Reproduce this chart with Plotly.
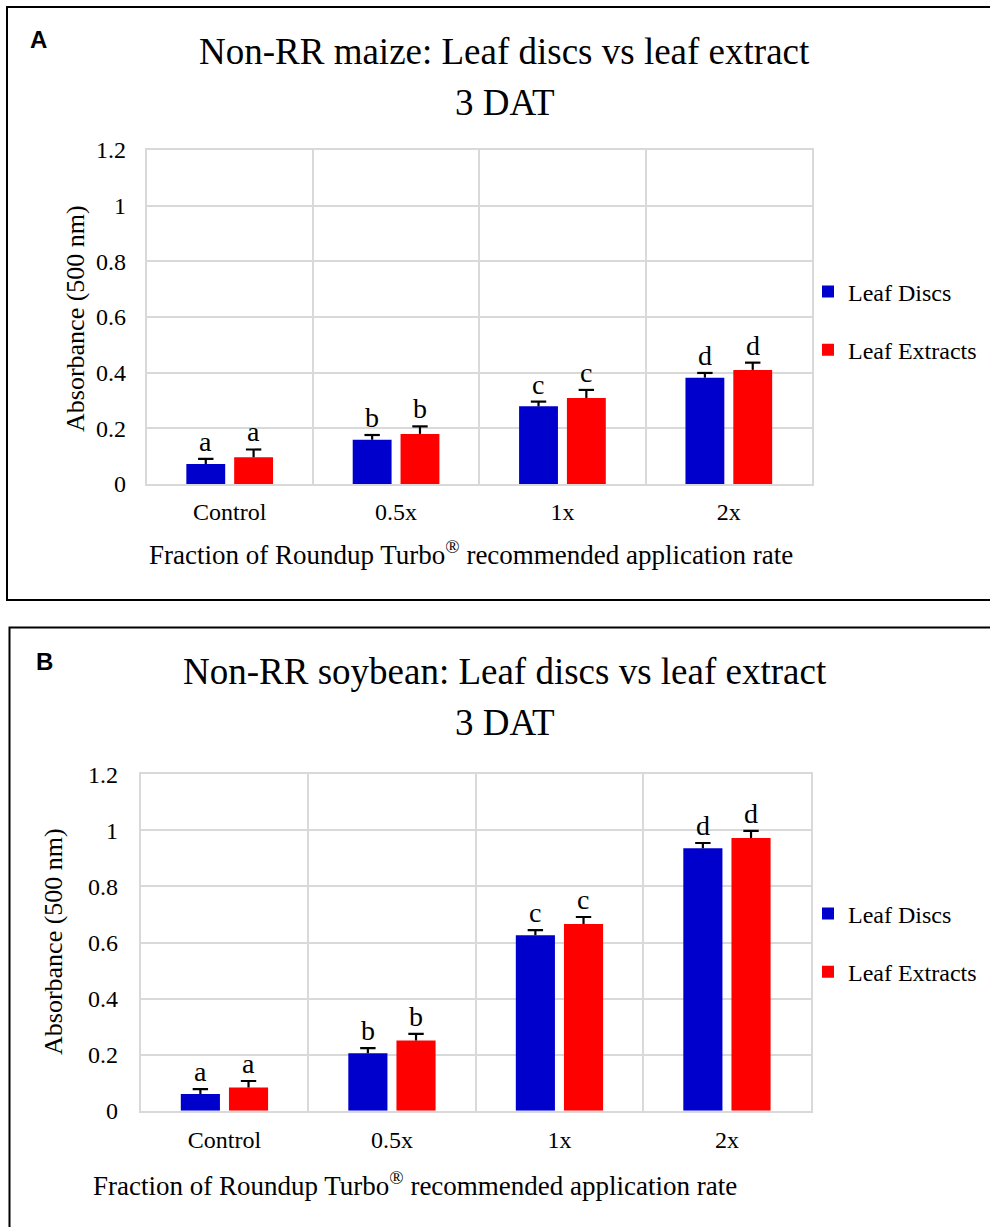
import plotly.graph_objects as go

W, H = 990, 1227

categories = ["Control", "0.5x", "1x", "2x"]
series_names = ["Leaf Discs", "Leaf Extracts"]
colors = ["#0000CC", "#FF0000"]

maize_discs = [0.072, 0.159, 0.279, 0.382]
maize_discs_err = [0.018, 0.017, 0.017, 0.017]
maize_extracts = [0.096, 0.180, 0.309, 0.410]
maize_extracts_err = [0.028, 0.027, 0.029, 0.026]

soy_discs = [0.060, 0.205, 0.626, 0.936]
soy_discs_err = [0.017, 0.018, 0.018, 0.019]
soy_extracts = [0.083, 0.250, 0.666, 0.973]
soy_extracts_err = [0.023, 0.024, 0.025, 0.025]

letters_discs = ["a", "b", "c", "d"]
letters_extracts = ["a", "b", "c", "d"]

y_ticks = [0, 0.2, 0.4, 0.6, 0.8, 1.0, 1.2]
y_tick_text = ["0", "0.2", "0.4", "0.6", "0.8", "1", "1.2"]

title_a1 = "Non-RR maize: Leaf discs vs leaf extract"
title_b1 = "Non-RR soybean: Leaf discs vs leaf extract"
title_2 = "3 DAT"
x_title = "Fraction of Roundup Turbo<sup>®</sup> recommended application rate"
y_title = "Absorbance (500 nm)"

SERIF = "Liberation Serif, Times New Roman, serif"
SANS = "Liberation Sans, Arial, sans-serif"

def px(x):
    return x / W

def py(y):
    return 1 - y / H

fig = go.Figure()

panels = [
    dict(xa="x", ya="y", leg="legend", vals=[(maize_discs, maize_discs_err), (maize_extracts, maize_extracts_err)]),
    dict(xa="x2", ya="y2", leg="legend2", vals=[(soy_discs, soy_discs_err), (soy_extracts, soy_extracts_err)]),
]

for p in panels:
    for i, (v, e) in enumerate(p["vals"]):
        fig.add_trace(go.Bar(
            x=categories, y=v, name=series_names[i],
            marker=dict(color=colors[i], line=dict(width=0)),
            error_y=dict(type="data", array=e, arrayminus=[0] * len(e), symmetric=False,
                         color="black", thickness=2.2, width=0),
            xaxis=p["xa"], yaxis=p["ya"], legend=p["leg"],
            legendgroup=p["leg"] + str(i), offsetgroup=str(i),
        ))
    # caps of the (plus-only) error bars
    for i, (v, e) in enumerate(p["vals"]):
        fig.add_trace(go.Scatter(
            x=categories, y=[a + b for a, b in zip(v, e)], mode="markers",
            marker=dict(symbol="line-ew", size=11, color="black",
                        line=dict(color="black", width=2.2)),
            xaxis=p["xa"], yaxis=p["ya"], showlegend=False, hoverinfo="skip",
            offsetgroup=str(i),
        ))

axis_common = dict(showgrid=True, gridcolor="#d9d9d9", gridwidth=1.6,
                   showline=True, linecolor="#d9d9d9", linewidth=1.6, mirror=True,
                   zeroline=False, ticks="", automargin=False,
                   tickfont=dict(family=SERIF, size=24, color="black"))

fig.update_layout(
    width=W, height=H,
    margin=dict(l=0, r=0, t=0, b=0, pad=0, autoexpand=False),
    paper_bgcolor="white", plot_bgcolor="white",
    barmode="group", bargap=0.425, bargroupgap=0.1875,
    scattermode="group", scattergap=0.425,
    showlegend=True,
    xaxis=dict(domain=[px(146.5), px(812)], anchor="y", type="category",
               tickson="boundaries", ticklabelstandoff=5, **axis_common),
    yaxis=dict(domain=[py(484), py(150)], anchor="x", range=[0, 1.2],
               tickvals=y_ticks, ticktext=y_tick_text, ticklabelstandoff=14, **axis_common),
    xaxis2=dict(domain=[px(140.7), px(810.7)], anchor="y2", type="category",
                tickson="boundaries", ticklabelstandoff=7, **axis_common),
    yaxis2=dict(domain=[py(1110.7), py(774.3)], anchor="x2", range=[0, 1.2],
                tickvals=y_ticks, ticktext=y_tick_text, ticklabelstandoff=16, **axis_common),
    legend=dict(x=px(808), y=py(321), xanchor="left", yanchor="middle",
                font=dict(family=SERIF, size=24, color="black"),
                tracegroupgap=24, bgcolor="rgba(0,0,0,0)", itemwidth=30),
    legend2=dict(x=px(808), y=py(943), xanchor="left", yanchor="middle",
                 font=dict(family=SERIF, size=24, color="black"),
                 tracegroupgap=24, bgcolor="rgba(0,0,0,0)", itemwidth=30),
)

ann = []
# significance letters
for p in panels:
    for i, (v, e) in enumerate(p["vals"]):
        letters = letters_discs if i == 0 else letters_extracts
        for c, val, err, lt in zip(categories, v, e, letters):
            ann.append(dict(x=c, y=val + err, xref=p["xa"], yref=p["ya"], text=lt,
                            showarrow=False, xshift=-24 if i == 0 else 24, yshift=0,
                            yanchor="bottom", font=dict(family=SERIF, size=28, color="black")))

# titles
for (t1, yc1, yc2) in [(title_a1, 51, 102), (title_b1, 671.5, 722)]:
    ann.append(dict(x=px(505), y=py(yc1), xref="paper", yref="paper", text=t1, showarrow=False,
                    xanchor="center", yanchor="middle", font=dict(family=SERIF, size=37, color="black")))
    ann.append(dict(x=px(505), y=py(yc2), xref="paper", yref="paper", text=title_2, showarrow=False,
                    xanchor="center", yanchor="middle", font=dict(family=SERIF, size=37, color="black")))

# axis titles
for (xc, yc) in [(471, 553), (415, 1184)]:
    ann.append(dict(x=px(xc), y=py(yc), xref="paper", yref="paper", text=x_title, showarrow=False,
                    xanchor="center", yanchor="middle", font=dict(family=SERIF, size=27, color="black")))
for (xc, yc) in [(76, 319), (53, 942)]:
    ann.append(dict(x=px(xc), y=py(yc), xref="paper", yref="paper", text=y_title, showarrow=False,
                    textangle=-90, xanchor="center", yanchor="middle",
                    font=dict(family=SERIF, size=26, color="black")))

# panel labels
for (lab, xc, yc) in [("A", 38, 39.5), ("B", 44.5, 661)]:
    ann.append(dict(x=px(xc), y=py(yc), xref="paper", yref="paper", text="<b>" + lab + "</b>",
                    showarrow=False, xanchor="center", yanchor="middle",
                    font=dict(family=SANS, size=24, color="black")))

fig.update_layout(annotations=ann)

# panel frames
fig.add_shape(type="rect", xref="paper", yref="paper", x0=px(7), x1=1.02, y0=py(600), y1=py(7),
              line=dict(color="black", width=2), fillcolor="rgba(0,0,0,0)", layer="below")
fig.add_shape(type="rect", xref="paper", yref="paper", x0=px(9.5), x1=1.02, y0=-0.02, y1=py(627.5),
              line=dict(color="black", width=2), fillcolor="rgba(0,0,0,0)", layer="below")

fig.write_html("out.html", config={"displayModeBar": False},
               post_script="document.body.style.margin='0';document.body.style.overflow='hidden';")
